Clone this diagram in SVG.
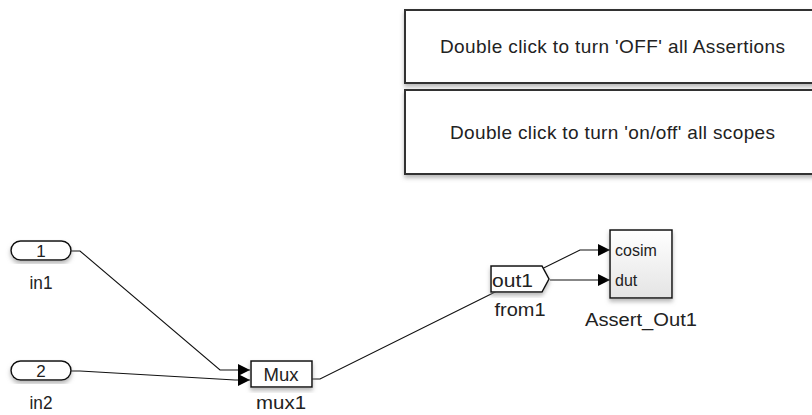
<svg xmlns="http://www.w3.org/2000/svg" width="812" height="415" viewBox="0 0 812 415">
<defs>
<style>
text{font-family:"Liberation Sans",Arial,sans-serif;fill:#222}
.lbl{font-size:18px;text-anchor:middle}
.port{font-size:16px}
.blk{fill:#fff;stroke:#111;stroke-width:1.5}
.wire{fill:none;stroke:#111;stroke-width:1.1}
.note{fill:#fff;stroke:#333;stroke-width:2}
</style>
<marker id="ah" viewBox="0 0 10 10" refX="10" refY="5" markerWidth="14" markerHeight="12" markerUnits="userSpaceOnUse" orient="auto">
<path d="M0,0L10,5L0,10z" fill="#000"/>
</marker>
<linearGradient id="g" x1="0" y1="0" x2="0" y2="1">
<stop offset="0" stop-color="#fff"/>
<stop offset="1" stop-color="#e4e4e4"/>
</linearGradient>
<filter id="sh" x="-10%" y="-10%" width="120%" height="130%">
<feDropShadow dx="0" dy="3" stdDeviation="2" flood-color="#888" flood-opacity="0.6"/>
</filter>
</defs>
<g id="note1">
<rect class="note" x="405" y="10" width="420" height="73" filter="url(#sh)"/>
<text x="440" y="53" font-size="19" textLength="345" lengthAdjust="spacing">Double click to turn 'OFF' all Assertions</text>
</g>
<g id="note2">
<rect class="note" x="405" y="90" width="420" height="84" filter="url(#sh)"/>
<text x="450" y="139" font-size="19" textLength="325" lengthAdjust="spacing">Double click to turn 'on/off' all scopes</text>
</g>
<g id="connectors">
<polyline class="wire" points="71,251 80,251 220,370 250,370" marker-end="url(#ah)"/>
<polyline class="wire" points="71,371 80,371 235,380 250,380" marker-end="url(#ah)"/>
<polyline class="wire" points="312,379 320,379 580,250 610,250" marker-end="url(#ah)"/>
<polyline class="wire" points="550,280 610,280" marker-end="url(#ah)"/>
</g>
<g id="in1">
<rect class="blk" x="11" y="241" width="60" height="19" rx="9.5" filter="url(#sh)"/>
<text x="41" y="257" font-size="17" text-anchor="middle">1</text>
<text class="lbl" x="41" y="289" textLength="23" lengthAdjust="spacingAndGlyphs">in1</text>
</g>
<g id="in2">
<rect class="blk" x="11" y="361" width="60" height="19" rx="9.5" filter="url(#sh)"/>
<text x="41" y="377" font-size="17" text-anchor="middle">2</text>
<text class="lbl" x="41" y="409" textLength="23" lengthAdjust="spacingAndGlyphs">in2</text>
</g>
<g id="mux1">
<rect class="blk" x="251" y="361" width="61" height="26" filter="url(#sh)"/>
<text x="281" y="381" font-size="18" text-anchor="middle" textLength="35" lengthAdjust="spacingAndGlyphs">Mux</text>
<text class="lbl" x="281" y="409" textLength="50" lengthAdjust="spacingAndGlyphs">mux1</text>
</g>
<g id="from1">
<polygon class="blk" points="491,266 542,266 549,279 542,292 491,292" filter="url(#sh)"/>
<text x="492" y="287" font-size="18" textLength="41" lengthAdjust="spacingAndGlyphs">out1</text>
<text class="lbl" x="520" y="316" textLength="51" lengthAdjust="spacingAndGlyphs">from1</text>
</g>
<g id="Assert_Out1">
<rect x="610" y="230" width="62" height="68" fill="url(#g)" stroke="#111" stroke-width="1.5" filter="url(#sh)"/>
<text class="port" x="615" y="256">cosim</text>
<text class="port" x="615" y="286">dut</text>
<text class="lbl" x="641" y="326" textLength="112" lengthAdjust="spacingAndGlyphs">Assert_Out1</text>
</g>
</svg>
